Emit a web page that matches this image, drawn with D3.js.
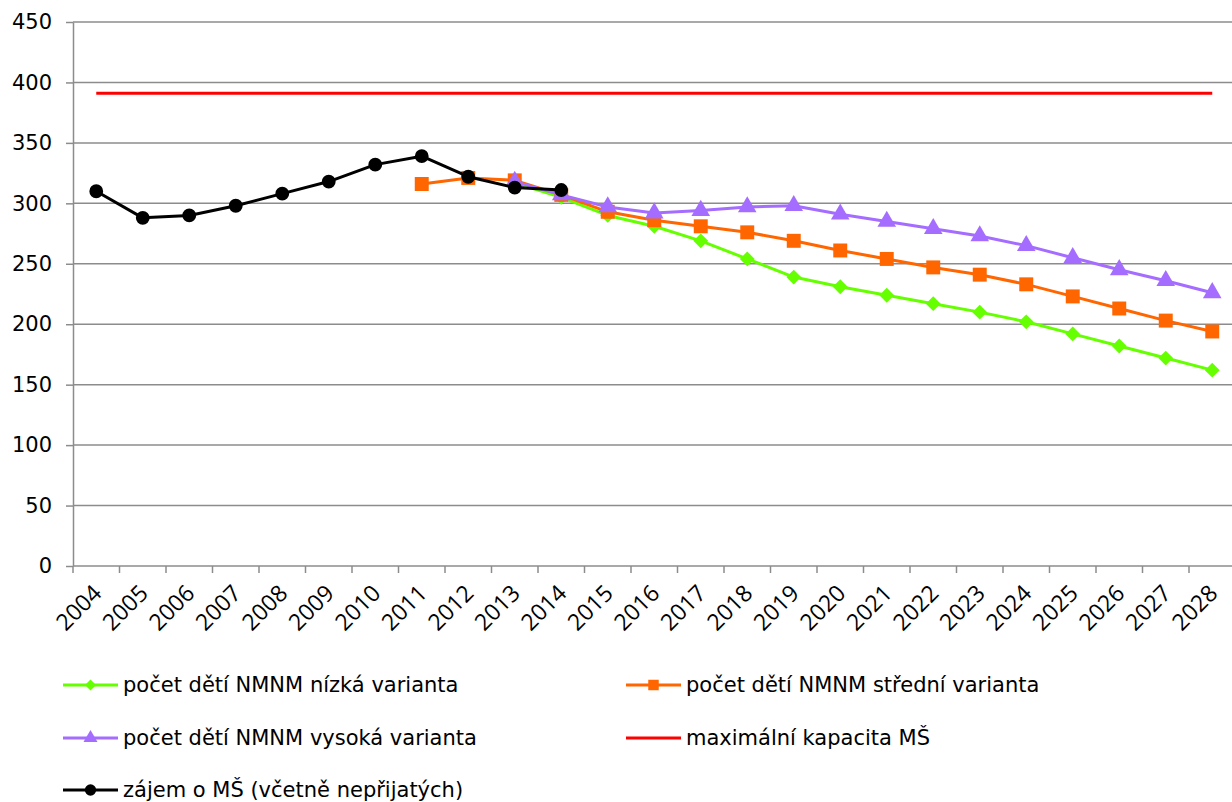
<!DOCTYPE html>
<meta charset="utf-8">
<style>
body { margin: 0; background: #fff; }
.grid line { stroke: #8c8c8c; stroke-width: 1.5px; }
.axis path, .axis line { stroke: #8c8c8c; stroke-width: 1.5px; }
.axis text { fill: #000; }
.series .ln { fill: none; stroke-width: 3px; stroke-linejoin: round; }
</style>
<svg width="1232" height="802"></svg>
<script src="https://d3js.org/d3.v7.min.js"></script>
<script>
const years = d3.range(2004, 2029).map(String);
const yTicks = [0, 50, 100, 150, 200, 250, 300, 350, 400, 450];

// null = no value for that year
const nizka = [null, null, null, null, null, null, null, null, null, 317, 305, 290, 281, 269, 254, 239, 231, 224, 217, 210, 202, 192, 182, 172, 162];
const stredni = [null, null, null, null, null, null, null, 316, 321, 319, 307, 293, 286, 281, 276, 269, 261, 254, 247, 241, 233, 223, 213, 203, 194];
const vysoka = [null, null, null, null, null, null, null, null, null, 318, 307, 297, 292, 294, 297, 298, 291, 285, 279, 273, 265, 255, 245, 236, 226];
const kapacita = [391, 391, 391, 391, 391, 391, 391, 391, 391, 391, 391, 391, 391, 391, 391, 391, 391, 391, 391, 391, 391, 391, 391, 391, 391];
const zajem = [310, 288, 290, 298, 308, 318, 332, 339, 322, 313, 311, null, null, null, null, null, null, null, null, null, null, null, null, null, null];

const series = [
  { name: "počet dětí NMNM nízká varianta", values: nizka, color: "#66ff00", marker: "diamond" },
  { name: "počet dětí NMNM střední varianta", values: stredni, color: "#ff6600", marker: "square" },
  { name: "počet dětí NMNM vysoká varianta", values: vysoka, color: "#a56dff", marker: "triangle" },
  { name: "maximální kapacita MŠ", values: kapacita, color: "#ff0000", marker: null },
  { name: "zájem o MŠ (včetně nepřijatých)", values: zajem, color: "#000000", marker: "circle" }
];

const svg = d3.select("svg");
const plotLeft = 73, plotTop = 22, plotBottom = 566, band = 46.5;

const x = d3.scaleBand().domain(years).range([plotLeft, plotLeft + band * years.length]);
const y = d3.scaleLinear().domain([0, 450]).range([plotBottom, plotTop]);
const cx = d => x(d) + x.bandwidth() / 2;

// gridlines
svg.append("g").attr("class", "grid")
  .selectAll("line").data(yTicks.slice(1)).join("line")
  .attr("x1", plotLeft).attr("x2", 1232)
  .attr("y1", d => y(d)).attr("y2", d => y(d));

// y axis
const yAxis = svg.append("g").attr("class", "axis")
  .attr("transform", `translate(${plotLeft},0)`)
  .call(d3.axisLeft(y).tickValues(yTicks).tickSize(7).tickPadding(14).tickSizeOuter(0));
yAxis.selectAll("text").style("font", "21px 'DejaVu Sans'");

// x axis, ticks at band edges
const xAxis = svg.append("g").attr("class", "axis")
  .attr("transform", `translate(0,${plotBottom})`);
xAxis.append("line").attr("x1", plotLeft).attr("x2", 1232);
xAxis.selectAll(".tk").data(years).join("line").attr("class", "tk")
  .attr("x1", d => x(d)).attr("x2", d => x(d)).attr("y1", 0).attr("y2", 7);
xAxis.selectAll("text").data(years).join("text")
  .attr("transform", d => `translate(${cx(d) + 1},23) rotate(-45)`)
  .attr("text-anchor", "end")
  .attr("dy", "0.35em")
  .style("font", "23px 'Open Sans'")
  .text(d => d);

const symbolType = {
  diamond: d3.symbolSquare,
  square: d3.symbolSquare,
  triangle: d3.symbolTriangle,
  circle: d3.symbolCircle
};
const plotSize = { diamond: 110, square: 195, triangle: 150, circle: 150 };
const legendSize = { diamond: 60, square: 110, triangle: 85, circle: 100 };
const rot = m => (m === "diamond" ? " rotate(45)" : "");

const line = d3.line()
  .defined(d => d.v != null)
  .x(d => cx(d.year))
  .y(d => y(d.v));

// red first, variants, black on top
[3, 0, 1, 2, 4].forEach(i => {
  const s = series[i];
  const pts = years.map((yr, j) => ({ year: yr, v: s.values[j] }));
  const g = svg.append("g").attr("class", "series");
  g.append("path").attr("class", "ln").datum(pts).attr("d", line).attr("stroke", s.color);
  if (s.marker) {
    g.selectAll("path.m").data(pts.filter(d => d.v != null)).join("path")
      .attr("class", "m")
      .attr("d", d3.symbol().type(symbolType[s.marker]).size(plotSize[s.marker]))
      .attr("transform", d => `translate(${cx(d.year)},${y(d.v)})` + rot(s.marker))
      .attr("fill", s.color);
  }
});

// legend
const legendPos = [
  { x: 63, y: 685 }, { x: 626, y: 685 },
  { x: 63, y: 738 }, { x: 626, y: 738 },
  { x: 63, y: 790 }
];
series.forEach((s, i) => {
  const p = legendPos[i];
  const g = svg.append("g").attr("transform", `translate(${p.x},${p.y})`);
  g.append("line").attr("x1", 0).attr("x2", 55).attr("stroke", s.color).attr("stroke-width", 3);
  if (s.marker) {
    g.append("path").attr("d", d3.symbol().type(symbolType[s.marker]).size(legendSize[s.marker]))
      .attr("transform", "translate(27.5,0)" + rot(s.marker))
      .attr("fill", s.color);
  }
  g.append("text").attr("x", 60).attr("dy", "0.35em")
    .style("font", "21px 'DejaVu Sans'").text(s.name);
});
</script>
